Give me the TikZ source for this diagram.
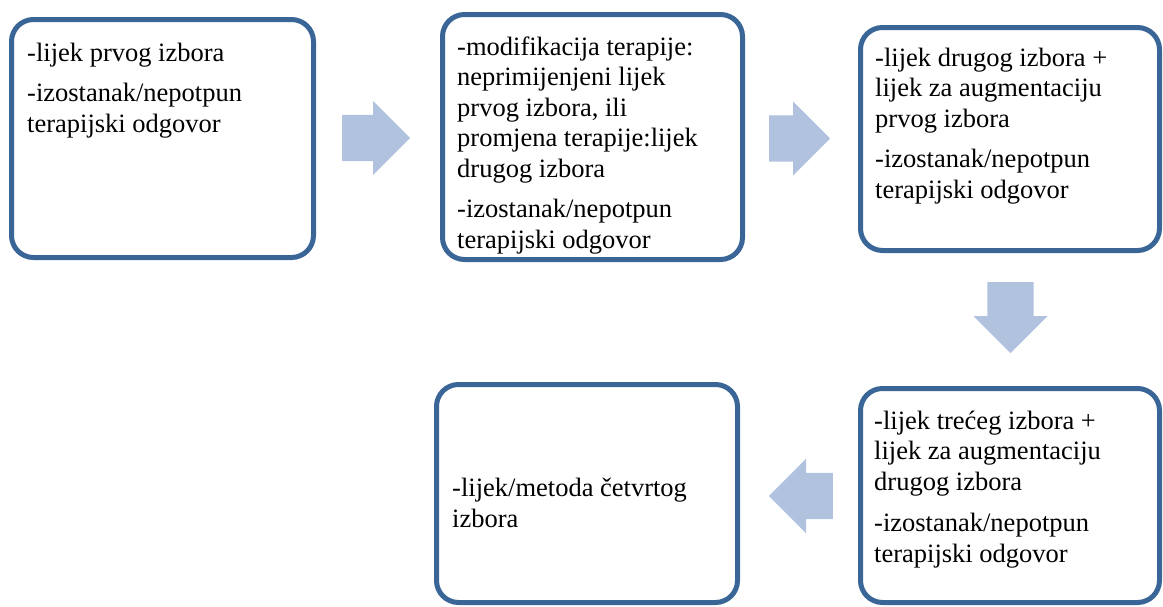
\documentclass[tikz,border=0pt]{standalone}
\usepackage{fontspec}
\setmainfont{Liberation Serif}
\newfontfamily\timesfont{Liberation Serif}
\usetikzlibrary{shapes.arrows}
\definecolor{boxblue}{HTML}{3A6597}
\definecolor{arrowblue}{HTML}{B0C2DE}

\begin{document}
\begin{tikzpicture}[x=1pt, y=-1pt,
        stage/.style={draw=boxblue, line width=5pt, rounded corners=22pt, fill=white},
        note/.style={anchor=base west, inner sep=0pt, align=left, font=\timesfont\fontsize{26.5}{30.5}\selectfont},
        blockarrow/.style={single arrow, fill=arrowblue, inner xsep=0pt, inner ysep=23pt, single arrow head extend=14pt, anchor=tail}]
            \useasboundingbox (0,0) rectangle (1163,606);

            \node (s1) at (162.5,138.5) [stage, minimum width=302pt, minimum height=238pt] {};
            \node (t1) at (27,132) [note] {-lijek prvog izbora\\[10pt]
                -izostanak/nepotpun\\ terapijski odgovor};

            \node (s2) at (592.5,137) [stage, minimum width=300pt, minimum height=245pt] {};
            \node (t2) at (457,248) [note] {-modifikacija terapije:\\ neprimijenjeni lijek\\
                prvog izbora, ili\\ promjena terapije:lijek\\ drugog izbora\\[10pt]
                -izostanak/nepotpun\\ terapijski odgovor};

            \node (s3) at (1010,139) [stage, minimum width=299pt, minimum height=223pt] {};
            \node (t3) at (875,198) [note] {-lijek drugog izbora +\\ lijek za augmentaciju\\
                prvog izbora\\[10pt] -izostanak/nepotpun\\ terapijski odgovor};

            \node (s4) at (1010,495.5) [stage, minimum width=299pt, minimum height=214pt] {};
            \node (t4) at (874,562) [note] {-lijek trećeg izbora +\\ lijek za augmentaciju\\
                drugog izbora\\[11pt] -izostanak/nepotpun\\ terapijski odgovor};

            \node (s5) at (587,493.5) [stage, minimum width=301pt, minimum height=218pt] {};
            \node (t5) at (452,527) [note] {-lijek/metoda četvrtog\\ izbora};

            \node (a1) at (342,138) [blockarrow, minimum height=68pt] {};
            \node (a2) at (769,138.5) [blockarrow, minimum height=61pt] {};
            \node (a3) at (1010.5,282) [blockarrow, minimum height=71pt, rotate=-90] {};
            \node (a4) at (833,496) [blockarrow, minimum height=64pt, rotate=180] {};
        \end{tikzpicture}
\end{document}
